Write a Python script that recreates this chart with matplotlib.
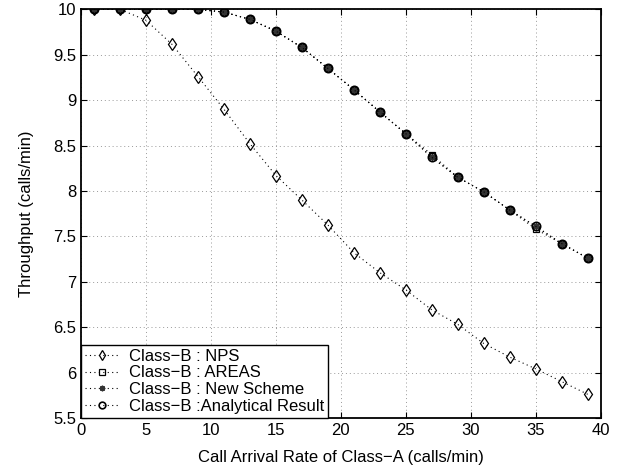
import numpy as np
import matplotlib
matplotlib.use("Agg")
import matplotlib.pyplot as plt

plt.rcParams['font.family'] = ['Liberation Sans', 'DejaVu Sans']
plt.rcParams['font.size'] = 12

# call arrival rate of class-A (calls/min)
arrival_rate = [1, 3, 5, 7, 9, 11, 13, 15, 17, 19, 21, 23, 25, 27, 29, 31, 33, 35, 37, 39]

# class-B throughput (calls/min)
nps = [10.0, 10.0, 9.88, 9.615, 9.26, 8.90, 8.52, 8.17, 7.90, 7.625,
       7.32, 7.10, 6.91, 6.69, 6.53, 6.32, 6.17, 6.04, 5.90, 5.76]
areas = [10.0, 10.0, 10.0, 10.0, 10.0, 9.97, 9.89, 9.76, 9.58, 9.35,
         9.115, 8.87, 8.63, 8.40, 8.15, 7.99, 7.79, 7.58, 7.42, 7.26]
new_scheme = [10.0, 10.0, 10.0, 10.0, 10.0, 9.97, 9.89, 9.76, 9.58, 9.35,
              9.115, 8.87, 8.63, 8.37, 8.15, 7.99, 7.79, 7.61, 7.42, 7.26]
analytical = [10.0, 10.0, 10.0, 10.0, 10.0, 9.97, 9.89, 9.76, 9.58, 9.35,
              9.115, 8.87, 8.63, 8.37, 8.15, 7.99, 7.79, 7.61, 7.42, 7.26]

fig = plt.figure(figsize=(6.33, 4.68), dpi=100)
ax = fig.add_axes([0.128, 0.107, 0.821, 0.873])

dots = (0, (1, 3))
style = dict(color='k', linestyle=dots, linewidth=0.8,
             markerfacecolor='none', markeredgecolor='k')

ax.plot(arrival_rate, nps, marker='d', markersize=6, markeredgewidth=0.9,
        label='Class\u2212B : NPS', **style)
ax.plot(arrival_rate, areas, marker='s', markersize=5, markeredgewidth=0.9,
        label='Class\u2212B : AREAS', **style)
ax.plot(arrival_rate, new_scheme, marker=(8, 2, 0), markersize=5, markeredgewidth=1.0,
        markeredgecolor='#333333', label='Class\u2212B : New Scheme',
        **{k: v for k, v in style.items() if k != 'markeredgecolor'})
ax.plot(arrival_rate, analytical, marker='o', markersize=6, markeredgewidth=1.2,
        label='Class\u2212B :Analytical Result', **style)

ax.set_xlim(0, 40)
ax.set_ylim(5.5, 10)
ax.set_xticks(np.arange(0, 41, 5))
ax.set_yticks(np.arange(5.5, 10.01, 0.5))
ax.set_yticklabels(['5.5', '6', '6.5', '7', '7.5', '8', '8.5', '9', '9.5', '10'])

ax.grid(True, color='#999999', linestyle=(0, (1, 3)), linewidth=0.7)
ax.tick_params(direction='in', top=True, right=True, length=4, width=0.8, labelsize=12)
for s in ax.spines.values():
    s.set_linewidth(1.3)

ax.set_xlabel('Call Arrival Rate of Class\u2212A (calls/min)', fontsize=12, labelpad=9)
ax.set_ylabel('Throughput (calls/min)', fontsize=12, labelpad=14)

leg = ax.legend(loc='lower left', borderaxespad=0, fancybox=False, framealpha=1,
                edgecolor='k', fontsize=12, handlelength=2.0, handletextpad=0.6,
                labelspacing=0.1, borderpad=0.25, markerscale=0.8)
leg.get_frame().set_linewidth(1.0)

fig.savefig('out.png', dpi=100)
